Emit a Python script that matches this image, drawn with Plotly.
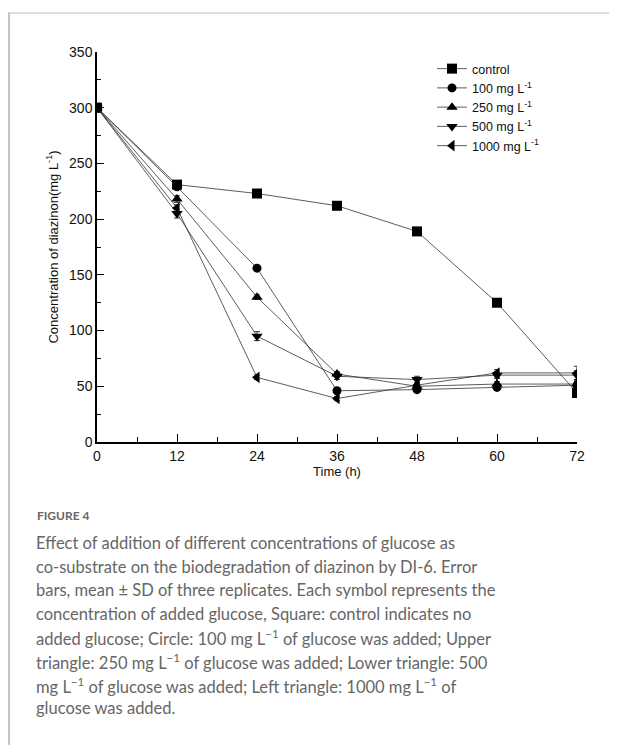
import plotly.graph_objects as go

time_h = [0, 12, 24, 36, 48, 60, 72]
control = [300, 231, 223, 212, 189, 125, 44]
g100 = [300, 229, 156, 46, 47, 49, 51]
g250 = [300, 218, 130, 61, 50, 52, 52]
g500 = [300, 205, 95, 59, 56, 60, 60]
g1000 = [300, 210, 58, 39, 51, 62, 62]
sd_control = [3, 2, 2, 2, 2, 3, 3]
sd_100 = [3, 2, 2, 2, 2, 2, 3]
sd_250 = [3, 3, 2, 2, 2, 2, 3]
sd_500 = [3, 4, 4, 3, 3, 3, 4]
sd_1000 = [3, 3, 2, 2, 2, 3, 6]

series_names = ["control", "100 mg L<sup>-1</sup>", "250 mg L<sup>-1</sup>",
                "500 mg L<sup>-1</sup>", "1000 mg L<sup>-1</sup>"]
series_vals = [control, g100, g250, g500, g1000]
series_sd = [sd_control, sd_100, sd_250, sd_500, sd_1000]
symbols = ["square", "circle", "triangle-up", "triangle-down", "triangle-left"]
x_ticks = [0, 12, 24, 36, 48, 60, 72]
y_ticks = [0, 50, 100, 150, 200, 250, 300, 350]

caption_title = "FIGURE 4"
caption_lines = [
    "Effect of addition of different concentrations of glucose as",
    "co-substrate on the biodegradation of diazinon by DI-6. Error",
    "bars, mean ± SD of three replicates. Each symbol represents the",
    "concentration of added glucose, Square: control indicates no",
    "added glucose; Circle: 100 mg L<sup>−1</sup> of glucose was added; Upper",
    "triangle: 250 mg L<sup>−1</sup> of glucose was added; Lower triangle: 500",
    "mg L<sup>−1</sup> of glucose was added; Left triangle: 1000 mg L<sup>−1</sup> of",
    "glucose was added.",
]

# page body adds an 8px offset; work in page pixels and shift
OFF = 8
W, H = 617 - OFF, 745 - OFF
L, R, T, B = 97 - OFF, 40, 52 - OFF, 303
pw, ph = W - L - R, H - T - B


def px_x(p):
    return (p - OFF - L) / pw


def px_y(p):
    return (H - B - (p - OFF)) / ph


fig = go.Figure()
for name, vals, sd, sym in zip(series_names, series_vals, series_sd, symbols):
    fig.add_trace(go.Scatter(
        x=time_h, y=vals, name=name, mode="lines+markers",
        line=dict(color="#333333", width=0.8),
        marker=dict(symbol=sym, size=9 if sym == "circle" else 10, color="black"),
        error_y=dict(type="data", array=sd, color="black", thickness=0.8, width=3),
    ))

axis_font = dict(family="Liberation Sans, Arial", size=14, color="#111111")
title_font = dict(family="Liberation Sans, Arial", size=13, color="#111111")
fig.update_xaxes(
    range=[0, 72], tickvals=x_ticks, ticks="inside", ticklen=8, tickwidth=1.2,
    tickcolor="black", showline=True, linecolor="black", linewidth=1.5,
    showgrid=False, zeroline=False, tickfont=axis_font,
    minor=dict(dtick=6, ticks="inside", ticklen=5, tickwidth=1.2, tickcolor="black", showgrid=False),
    title=dict(text="Time (h)", font=title_font, standoff=4),
)
fig.update_yaxes(
    range=[0, 350], tickvals=y_ticks, ticks="inside", ticklen=7, tickwidth=1.2,
    tickcolor="black", showline=True, linecolor="black", linewidth=1.5,
    showgrid=False, zeroline=False, tickfont=axis_font,
    minor=dict(dtick=25, ticks="inside", ticklen=4, tickwidth=1.2, tickcolor="black", showgrid=False),
    title=dict(text="Concentration of diazinon(mg L<sup>-1</sup>)", font=title_font, standoff=8),
)

annotations = [dict(
    x=px_x(35), y=px_y(506), xref="paper", yref="paper", xanchor="left", yanchor="top",
    text="<b>" + caption_title + "</b>", showarrow=False,
    font=dict(family="Lato, Open Sans", size=12, color="#666666"),
)]
for i, line in enumerate(caption_lines):
    annotations.append(dict(
        x=px_x(34), y=px_y(531 + i * 23.6), xref="paper", yref="paper",
        xanchor="left", yanchor="top", text=line, showarrow=False,
        font=dict(family="Lato, Open Sans", size=16.5, color="#666666"),
    ))

shapes = [
    dict(type="line", xref="paper", yref="paper", x0=px_x(8), x1=px_x(617),
         y0=px_y(13), y1=px_y(13), line=dict(color="#bbbbbb", width=1)),
    dict(type="line", xref="paper", yref="paper", x0=px_x(9), x1=px_x(9),
         y0=px_y(13), y1=px_y(745), line=dict(color="#b0b0b0", width=1.5)),
]

fig.update_layout(
    width=W, height=H, margin=dict(l=L, r=R, t=T, b=B),
    paper_bgcolor="white", plot_bgcolor="white",
    showlegend=True,
    legend=dict(x=px_x(432), y=px_y(54), xanchor="left", yanchor="top",
                font=dict(family="Liberation Sans, Arial", size=12.5, color="#111111"),
                bgcolor="rgba(0,0,0,0)", itemwidth=30, tracegroupgap=0),
    annotations=annotations, shapes=shapes,
)

fig.write_html("out.html")
